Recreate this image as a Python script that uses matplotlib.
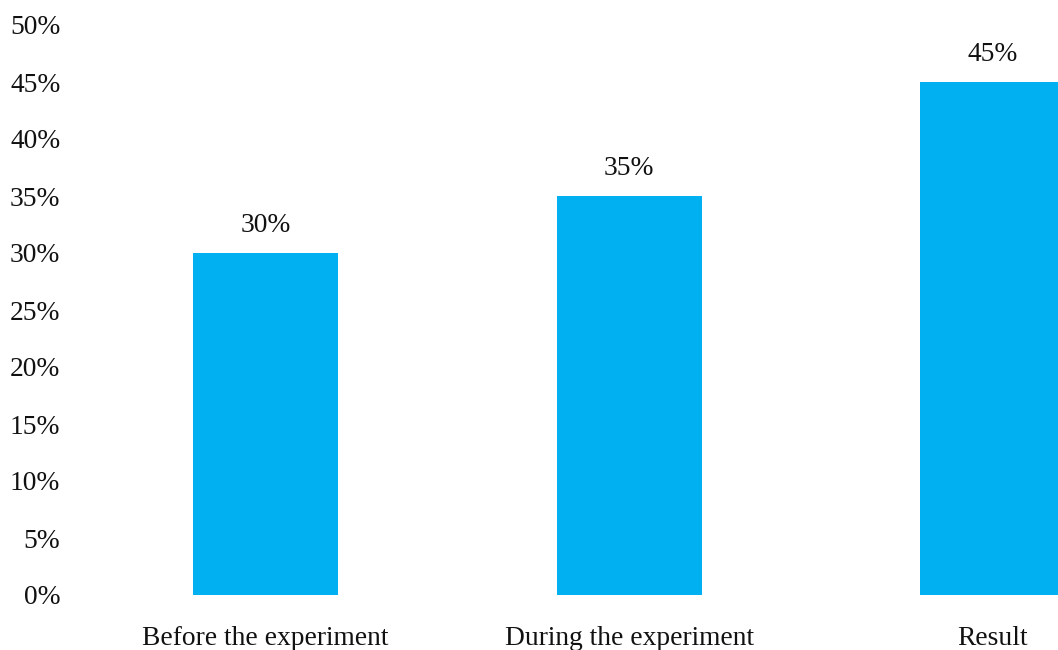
import matplotlib
matplotlib.use("Agg")
import matplotlib.pyplot as plt
from matplotlib.ticker import PercentFormatter

categories = ["Before the experiment", "During the experiment", "Result"]
values = [0.30, 0.35, 0.45]
value_labels = ["30%", "35%", "45%"]
yticks = [0, 0.05, 0.10, 0.15, 0.20, 0.25, 0.30, 0.35, 0.40, 0.45, 0.50]

plt.rcParams['font.family'] = ['Liberation Serif', 'DejaVu Serif']

fig = plt.figure(figsize=(10.58, 6.5), dpi=100)
ax = fig.add_axes([84/1058, 1 - 595/650, 1 - 84/1058, (595 - 25)/650])

FS = 19.8
x = list(range(len(categories)))
bars = ax.bar(x, values, width=0.4, color="#00B0F0", zorder=2)
for xi, v, lab in zip(x, values, value_labels):
    ax.annotate(lab, (xi, v), xytext=(0, 11), textcoords="offset points",
                ha="center", va="bottom", fontsize=FS, color="#111111")

ax.set_xlim(-0.5, -0.5 + (1058 - 84) / 363.5)
ax.set_ylim(0, 0.5)
ax.set_yticks(yticks)
ax.yaxis.set_major_formatter(PercentFormatter(1.0, decimals=0))
ax.set_xticks(x)
ax.set_xticklabels(categories)
ax.tick_params(axis='y', length=0, pad=17, labelsize=FS, labelcolor="#111111")
ax.tick_params(axis='x', length=0, pad=22, labelsize=FS, labelcolor="#111111")
for s in ax.spines.values():
    s.set_visible(False)

fig.savefig("out.png", dpi=100)
